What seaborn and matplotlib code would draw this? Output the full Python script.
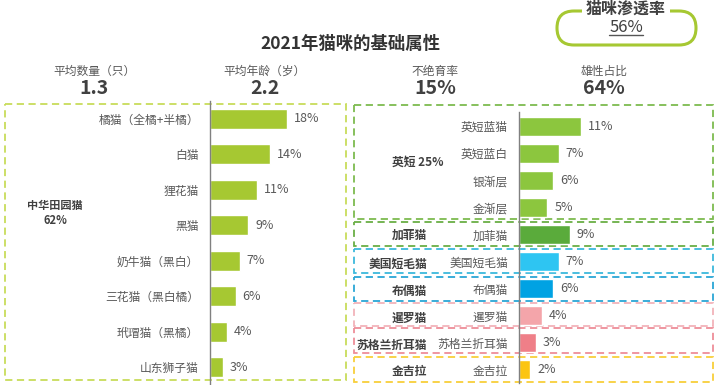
import matplotlib
matplotlib.use('Agg')
import matplotlib.pyplot as plt
import seaborn as sns
from matplotlib.patches import Rectangle, FancyBboxPatch

# data
left_cats = ['橘猫（全橘+半橘）', '白猫', '狸花猫', '黑猫', '奶牛猫（黑白）',
             '三花猫（黑白橘）', '玳瑁猫（黑橘）', '山东狮子猫']
left_vals = [18, 14, 11, 9, 7, 6, 4, 3]
right_cats = ['英短蓝猫', '英短蓝白', '银渐层', '金渐层', '加菲猫', '美国短毛猫',
              '布偶猫', '暹罗猫', '苏格兰折耳猫', '金吉拉']
right_vals = [11, 7, 6, 5, 9, 7, 6, 4, 3, 2]
right_colors = ['#8cc63e', '#8cc63e', '#8cc63e', '#8cc63e', '#5aab3b', '#2ec5f2',
                '#00a2e3', '#f4a5aa', '#ef7f88', '#fcc512']
stat_labels = ['平均数量（只）', '平均年龄（岁）', '不绝育率', '雄性占比']
stat_values = ['1.3', '2.2', '15%', '64%']

sns.set_style('white')
plt.rcParams['font.family'] = ['Noto Sans CJK SC', 'DejaVu Sans']

W, H = 720, 385
fig = plt.figure(figsize=(7.2, 3.85), dpi=100)

# background axes in pixel coordinates for text and boxes
bg = fig.add_axes([0, 0, 1, 1])
bg.set_xlim(0, W)
bg.set_ylim(H, 0)
bg.axis('off')

dash = (0, (4, 2.5))

def box(x0, y0, x1, y1, color):
    bg.add_patch(Rectangle((x0, y0), x1 - x0, y1 - y0, fill=False,
                           edgecolor=color, lw=1.3, linestyle=dash))

# left panel box
box(5, 104, 346, 380, '#c8dc5a')
# right panel boxes
box(354, 105, 713, 219, '#7dbb4f')
box(354, 222, 713, 246, '#6aaf45')
box(354, 249, 713, 273, '#3bb9dc')
box(354, 277, 713, 301, '#2aa6d6')
box(354, 303, 713, 326, '#f2b3ba')
box(354, 328, 713, 353, '#ee8e98')
box(354, 357, 713, 382, '#f8cf3a')

# title and stats
bg.text(350, 44, '2021年猫咪的基础属性', ha='center', va='center',
        fontsize=12.5, fontweight='bold', color='#333333')
for xc, lab, val in zip([94, 265, 435, 604], stat_labels, stat_values):
    bg.text(xc, 71, lab, ha='center', va='center', fontsize=8.5, color='#595959')
    bg.text(xc, 88, val, ha='center', va='center', fontsize=14,
            fontweight='bold', color='#404040')

# badge
bg.add_patch(FancyBboxPatch((557, 11), 139, 34,
                            boxstyle='round,pad=0,rounding_size=17',
                            fill=False, edgecolor='#a6c832', lw=2.2))
bg.text(626, 9, '猫咪渗透率', ha='center', va='center', fontsize=11.5,
        fontweight='bold', color='#404040',
        bbox=dict(facecolor='white', edgecolor='none', pad=3))
bg.text(626, 27, '56%', ha='center', va='center', fontsize=12, color='#404040')
bg.plot([609, 643], [35, 35], color='#555555', lw=1)

# group labels
bg.text(55, 205, '中华田园猫', ha='center', va='center', fontsize=8,
        fontweight='bold', color='#404040')
bg.text(55, 221, '62%', ha='center', va='center', fontsize=8,
        fontweight='bold', color='#404040')
bg.text(392, 162, '英短 25%', ha='left', va='center', fontsize=8.5,
        fontweight='bold', color='#404040')
for yc, lab in zip([235, 264, 291, 318, 345, 372],
                   ['加菲猫', '美国短毛猫', '布偶猫', '暹罗猫', '苏格兰折耳猫', '金吉拉']):
    bg.text(427, yc, lab, ha='right', va='center', fontsize=8.5,
            fontweight='bold', color='#404040')


def panel(rect_px, cats, vals, colors, width, xmax, pad, fs):
    x0, y0, x1, y1 = rect_px
    ax = fig.add_axes([x0 / W, 1 - y1 / H, (x1 - x0) / W, (y1 - y0) / H])
    ax.set_facecolor('none')
    sns.barplot(x=vals, y=cats, hue=cats, palette=colors, orient='h',
                width=width, legend=False, ax=ax, saturation=1)
    ax.set_xlim(0, xmax)
    ax.set_ylim(len(cats) - 0.5, -0.5)
    for s in ['top', 'right', 'bottom']:
        ax.spines[s].set_visible(False)
    ax.spines['left'].set_color('#808080')
    ax.spines['left'].set_linewidth(1)
    ax.set_xticks([])
    ax.set_xlabel('')
    ax.set_ylabel('')
    ax.tick_params(axis='y', length=0, pad=pad, labelsize=fs, labelcolor='#595959')
    for i, v in enumerate(vals):
        ax.annotate(f'{v}%', (v, i), xytext=(5, 0), textcoords='offset points',
                    ha='left', va='center', fontsize=9, color='#595959')
    return ax


panel((210, 101, 347, 385), left_cats, left_vals, ['#a6c832'] * len(left_cats),
      0.55, 137 / 4.25, 8, 8.5)
panel((519, 112.5, 713, 383.5), right_cats, right_vals, right_colors,
      0.7, 194 / 5.65, 8, 8.5)

fig.savefig('out.png', dpi=100, facecolor='white')
